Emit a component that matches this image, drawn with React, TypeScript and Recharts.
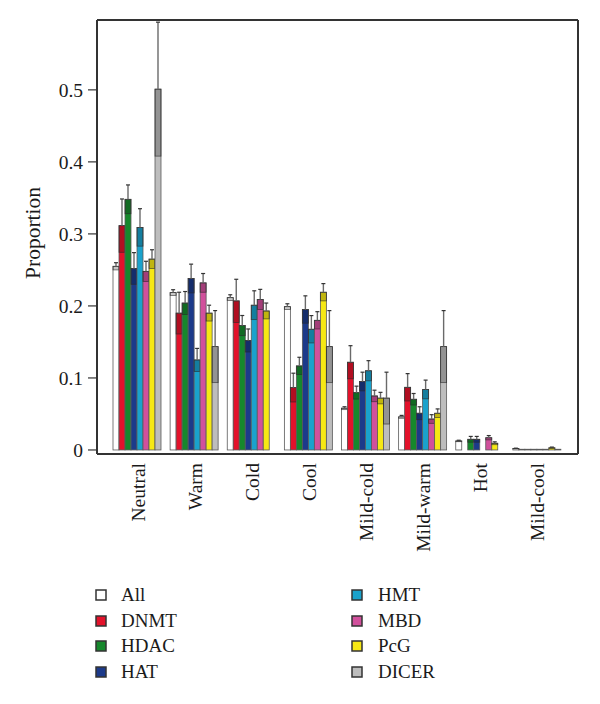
import React from 'react';
import { BarChart, Bar, XAxis, YAxis, Legend, Label } from 'recharts';

const categories = ['Neutral', 'Warm', 'Cold', 'Cool', 'Mild-cold', 'Mild-warm', 'Hot', 'Mild-cool'];

const seriesNames = ['All', 'DNMT', 'HDAC', 'HAT', 'HMT', 'MBD', 'PcG', 'DICER'];
const seriesColors = ['#ffffff', '#e3122b', '#16882c', '#1c3a8a', '#1aa2cc', '#d1509c', '#f6e814', '#bdbdbd'];

const allValues = [0.255, 0.2185, 0.2115, 0.199, 0.058, 0.046, 0.0125, 0.002];
const allErr = [0.005, 0.004, 0.004, 0.004, 0.002, 0.002, 0.001, 0.0005];
const dnmtValues = [0.3115, 0.19, 0.207, 0.0866, 0.1218, 0.087, 0, 0.001];
const dnmtErr = [0.037, 0.029, 0.03, 0.02, 0.023, 0.019, 0, 0];
const hdacValues = [0.348, 0.204, 0.1727, 0.1167, 0.0796, 0.0704, 0.0148, 0.001];
const hdacErr = [0.02, 0.016, 0.014, 0.012, 0.009, 0.008, 0.004, 0];
const hatValues = [0.252, 0.238, 0.152, 0.195, 0.095, 0.051, 0.0148, 0.001];
const hatErr = [0.022, 0.02, 0.016, 0.019, 0.013, 0.009, 0.004, 0];
const hmtValues = [0.309, 0.125, 0.201, 0.1676, 0.11, 0.084, 0, 0.001];
const hmtErr = [0.026, 0.016, 0.02, 0.019, 0.014, 0.013, 0, 0];
const mbdValues = [0.248, 0.232, 0.209, 0.18, 0.075, 0.043, 0.017, 0.001];
const mbdErr = [0.014, 0.013, 0.014, 0.012, 0.008, 0.006, 0.003, 0];
const pcgValues = [0.265, 0.19, 0.193, 0.219, 0.072, 0.051, 0.0093, 0.003];
const pcgErr = [0.013, 0.011, 0.011, 0.012, 0.008, 0.006, 0.002, 0.001];
const dicerValues = [0.501, 0.1435, 0, 0.1435, 0.072, 0.1435, 0, 0.001];
const dicerErr = [0.093, 0.05, 0, 0.05, 0.036, 0.05, 0, 0];

const yTicks = [0, 0.1, 0.2, 0.3, 0.4, 0.5];

const seriesValues = [allValues, dnmtValues, hdacValues, hatValues, hmtValues, mbdValues, pcgValues, dicerValues];
const seriesErrs = [allErr, dnmtErr, hdacErr, hatErr, hmtErr, mbdErr, pcgErr, dicerErr];

const data = categories.map((cat, i) => {
  const row: Record<string, any> = { cat };
  seriesNames.forEach((name, s) => {
    row[name] = seriesValues[s][i];
    row[name + '_err'] = seriesErrs[s][i];
  });
  return row;
});

const FONT = '"Liberation Serif", "DejaVu Serif", serif';
const TEXT = '#1a1a1a';
const FRAME = '#333333';

const makeShape = (name: string, color: string) => (props: any) => {
  const { x, y, width, height, payload } = props;
  const value = payload[name];
  const err = payload[name + '_err'];
  const h = Math.abs(height || 0);
  if (!value || h === 0) {
    return <g />;
  }
  const ppu = h / value;
  const errPx = err * ppu;
  const cx = x + width / 2;
  const overlayH = Math.min(errPx, h);
  return (
    <g>
      <rect x={x} y={y} width={width} height={h} fill={color} stroke="#5a5a5a" strokeWidth={0.8} />
      {errPx > 0 && (
        <>
          <rect x={x} y={y} width={width} height={overlayH} fill="rgba(0,0,0,0.22)" stroke="rgba(40,40,40,0.7)" strokeWidth={0.8} />
          <line x1={cx} x2={cx} y1={y - errPx} y2={y} stroke="#6a6a6a" strokeWidth={1.4} />
          <line x1={cx - 2} x2={cx + 2} y1={y - errPx} y2={y - errPx} stroke="#333" strokeWidth={1.2} />
        </>
      )}
    </g>
  );
};

const XTick = (props: any) => {
  const { x, y, payload } = props;
  return (
    <text
      transform={`translate(${x + 7},${y}) rotate(-90)`}
      textAnchor="end"
      fontFamily={FONT}
      fontSize={19.5}
      fill={TEXT}
    >
      {payload.value}
    </text>
  );
};

const LegendContent = () => {
  const rowY = [25, 51, 76, 102];
  return (
    <svg width={600} height={120} style={{ display: 'block' }}>
      {seriesNames.map((name, i) => {
        const col = Math.floor(i / 4);
        const row = i % 4;
        const sx = col === 0 ? 96 : 352;
        const tx = col === 0 ? 121 : 378;
        const cy = rowY[row];
        return (
          <g key={name}>
            <rect x={sx} y={cy - 5} width={10} height={10} fill={seriesColors[i]} stroke="#333" strokeWidth={1.5} />
            <text x={tx} y={cy + 6} fontFamily={FONT} fontSize={19} fill={TEXT}>
              {name}
            </text>
          </g>
        );
      })}
    </svg>
  );
};

const YLabel = () => (
  <text transform="translate(40,233) rotate(-90)" textAnchor="middle" fontFamily={FONT} fontSize={21.5} fill={TEXT}>
    Proportion
  </text>
);

export default function App() {
  const domain: [number, number] = [-0.0056, 0.597];
  return (
    <div style={{ position: 'absolute', left: 0, top: 0, width: 600, height: 704, background: '#fff' }}>
      <BarChart
        width={600}
        height={704}
        data={data}
        margin={{ top: 19, right: 21, bottom: 130, left: 0 }}
        barGap={0}
        barCategoryGap={4}
      >
        <XAxis
          dataKey="cat"
          interval={0}
          padding={{ left: 12, right: 12 }}
          height={120}
          tickSize={0}
          tickMargin={9}
          tick={<XTick />}
          axisLine={{ stroke: FRAME, strokeWidth: 2 }}
          tickLine={false}
        />
        <XAxis
          xAxisId="top"
          orientation="top"
          dataKey="cat"
          height={1}
          tick={false}
          tickLine={false}
          axisLine={{ stroke: FRAME, strokeWidth: 2 }}
        />
        <YAxis
          width={97}
          domain={domain}
          allowDataOverflow
          ticks={yTicks}
          interval={0}
          tickSize={9}
          tickMargin={5}
          tickFormatter={(v: number) => (v === 0 ? '0' : v.toFixed(1))}
          tick={{ fontFamily: FONT, fontSize: 19.5, fill: TEXT }}
          tickLine={{ stroke: FRAME, strokeWidth: 1.2 }}
          axisLine={{ stroke: FRAME, strokeWidth: 2 }}
        >
          <Label content={<YLabel />} />
        </YAxis>
        <YAxis
          yAxisId="right"
          orientation="right"
          width={1}
          domain={domain}
          allowDataOverflow
          tick={false}
          tickLine={false}
          axisLine={{ stroke: FRAME, strokeWidth: 2 }}
        />
        <Legend
          layout="vertical"
          align="center"
          verticalAlign="middle"
          content={<LegendContent />}
          wrapperStyle={{ position: 'absolute', left: 0, top: 570, width: 600, height: 120 }}
        />
        {seriesNames.map((name, i) => (
          <Bar
            key={name}
            dataKey={name}
            fill={seriesColors[i]}
            isAnimationActive={false}
            shape={makeShape(name, seriesColors[i])}
          />
        ))}
      </BarChart>
    </div>
  );
}
